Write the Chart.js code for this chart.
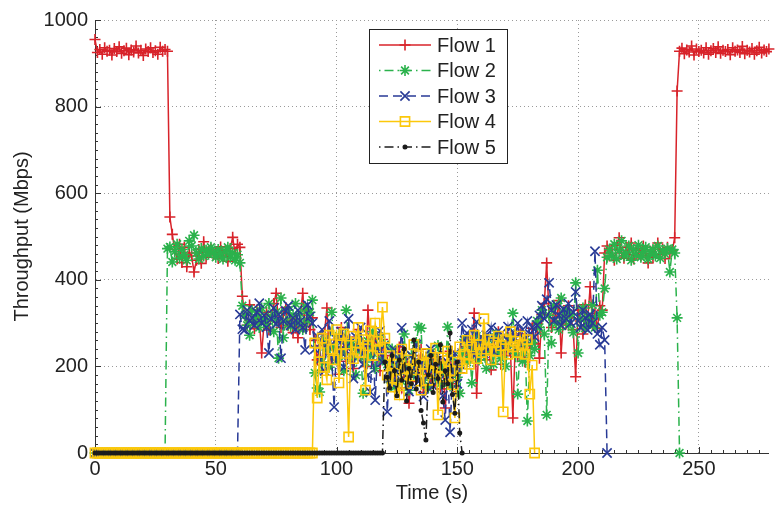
<!DOCTYPE html>
<html>
<head>
<meta charset="utf-8">
<script src="https://cdn.jsdelivr.net/npm/chart.js@4.4.1/dist/chart.umd.min.js"></script>
<style>
  html, body { margin: 0; padding: 0; background: #fff; }
  canvas { display: block; }
</style>
</head>
<body>
<canvas id="chart" width="777" height="508"></canvas>
<script>
// throughput (Mbps) per second, index = time in s
const flowNames = ["Flow 1", "Flow 2", "Flow 3", "Flow 4", "Flow 5"];

const flow1 = [
  955,925,932,921,936,928,930,919,934,927,938,923,929,935,920,931,926,940,924,930,918,933,927,936,925,929,921,937,928,932,
  928,545,
  505,470,448,482,440,475,430,462,455,418,445,470,438,488,452,466,471,458,463,449,476,455,468,443,472,498,460,482,475,
  362,318,295,342,305,287,330,310,231,298,325,284,318,345,369,302,290,322,336,295,310,278,305,266,318,369,292,330,285,312,
  260,215,248,190,275,335,228,205,262,238,182,290,245,212,268,230,195,252,285,220,240,200,330,255,215,272,238,190,262,225,
  210,175,232,160,198,245,150,188,210,115,175,225,165,195,240,140,182,205,155,228,170,192,148,215,104,178,235,160,200,142,185,215,
  245,212,268,230,323,138,255,228,270,215,248,192,262,235,280,205,250,225,268,238,81,260,222,275,245,210,262,240,288,252,
  300,219,320,345,439,318,290,335,305,352,231,320,298,340,312,285,176,330,305,275,342,310,384,295,322,288,340,330,462,478,
  455,470,445,480,497,462,450,475,458,485,448,468,472,455,478,460,439,466,452,474,485,458,470,449,475,462,468,497,836,
  928,935,922,931,926,940,919,933,927,930,924,936,921,929,934,925,938,923,930,927,932,920,936,928,931,925,939,922,930,926,934,921,929,937,924,931,927,933
];

const flow2 = [
  0,0,0,0,0,0,0,0,0,0, 0,0,0,0,0,0,0,0,0,0, 0,0,0,0,0,0,0,0,0,0,
  472,
  476,441,465,482,450,470,458,445,490,478,503,462,448,472,455,468,459,475,462,452,470,460,448,466,475,452,462,445,458,439,
  340,318,295,272,330,305,320,290,335,310,298,345,315,280,325,219,358,266,305,330,292,318,345,300,322,285,338,305,325,353,
  185,150,141,210,262,238,198,325,245,215,270,232,190,330,255,220,248,180,265,235,138,210,258,225,280,195,242,268,215,250,
  205,170,240,152,195,218,165,275,190,145,225,180,255,291,288,168,210,150,232,195,172,248,160,205,182,291,155,220,190,175,138,230,
  262,210,245,162,238,270,215,250,228,195,262,240,205,275,232,218,255,200,245,268,323,230,136,250,212,262,74,225,255,240,
  305,290,330,275,88,318,254,340,300,285,358,312,330,295,320,278,393,231,310,335,288,315,300,342,290,422,318,325,380,452,
  470,455,482,448,468,490,455,462,478,445,470,458,480,452,465,475,448,462,470,455,478,450,468,460,472,418,470,462,312,
  0
];

const flow3 = [
  0,0,0,0,0,0,0,0,0,0, 0,0,0,0,0,0,0,0,0,0, 0,0,0,0,0,0,0,0,0,0,
  0,0,0,0,0,0,0,0,0,0, 0,0,0,0,0,0,0,0,0,0, 0,0,0,0,0,0,0,0,0,0,
  320,286,284,330,305,312,295,325,346,300,318,290,231,310,335,298,320,219,305,328,340,295,312,285,330,305,290,238,342,315,300,
  240,270,215,285,190,250,305,220,106,262,235,280,198,245,310,225,172,268,240,290,205,255,180,141,265,122,235,282,210,248,
  95,205,160,238,178,215,289,170,195,142,225,188,250,165,205,130,218,180,240,155,198,225,170,132,76,210,48,185,230,160,205,300,
  260,277,240,285,225,303,250,268,230,272,245,290,235,260,282,245,270,238,292,255,278,265,300,248,285,262,305,275,290,268,
  295,318,340,310,355,393,330,305,342,318,295,332,310,345,300,325,372,305,290,330,312,284,320,300,466,275,250,290,261,
  0
];

const flow4 = [
  0,0,0,0,0,0,0,0,0,0, 0,0,0,0,0,0,0,0,0,0, 0,0,0,0,0,0,0,0,0,0,
  0,0,0,0,0,0,0,0,0,0, 0,0,0,0,0,0,0,0,0,0, 0,0,0,0,0,0,0,0,0,0,
  0,0,0,0,0,0,0,0,0,0, 0,0,0,0,0,0,0,0,0,0, 0,0,0,0,0,0,0,0,0,0,
  0,
  254,127,232,265,198,169,272,240,215,285,162,250,275,230,37,270,218,255,290,232,262,145,248,282,225,300,258,240,337,265,
  180,225,152,205,170,134,240,195,160,215,178,250,192,225,145,205,230,168,210,185,242,88,198,220,175,235,190,158,81,210,245,195,
  228,260,205,245,272,218,250,232,310,240,262,215,255,235,270,248,95,262,228,280,245,258,232,270,250,228,262,136,203,
  0
];

const flow5 = [
  0,0,0,0,0,0,0,0,0,0, 0,0,0,0,0,0,0,0,0,0, 0,0,0,0,0,0,0,0,0,0,
  0,0,0,0,0,0,0,0,0,0, 0,0,0,0,0,0,0,0,0,0, 0,0,0,0,0,0,0,0,0,0,
  0,0,0,0,0,0,0,0,0,0, 0,0,0,0,0,0,0,0,0,0, 0,0,0,0,0,0,0,0,0,0,
  0,0,0,0,0,0,0,0,0,0, 0,0,0,0,0,0,0,0,0,0, 0,0,0,0,0,0,0,0,0,0,
  210,175,150,225,190,132,215,168,240,120,195,160,261,148,210,98,69,30,180,225,140,205,172,250,118,190,160,277,135,92,210,46,
  0
];

const FONT = "'Liberation Sans', Arial, Helvetica, sans-serif";
const TEXT = "#222";

const styles = [
  { color: "#d8232a", dash: [],            point: "cross",    r: 5.5 },
  { color: "#2bb24c", dash: [1.5, 4, 9, 4], point: "star",     r: 5.5 },
  { color: "#283a96", dash: [9, 5],        point: "crossRot", r: 6.5 },
  { color: "#fcc80b", dash: [],            point: "rect",     r: 6.5 },
  { color: "#1c1c1c", dash: [1.5, 4, 9, 4], point: "circle",   r: 1.7 }
];

const series = [flow1, flow2, flow3, flow4, flow5];

const datasets = series.map((vals, i) => {
  const s = styles[i];
  return {
    label: flowNames[i],
    data: vals.map((v, t) => ({ x: t, y: v })),
    borderColor: s.color,
    borderWidth: 1.5,
    borderDash: s.dash,
    pointStyle: s.point,
    pointRadius: s.r,
    pointBorderWidth: 1.6,
    pointBorderColor: s.color,
    pointBackgroundColor: s.point === "rect" ? "rgba(0,0,0,0)" : s.color,
    tension: 0,
    clip: false,
    order: 5 - i // flow 5 drawn on top, like the original plot order
  };
});

// small inward ticks on the left and bottom axes
const axisTicks = {
  id: "axisTicks",
  beforeDatasetsDraw(chart) {
    const { ctx, chartArea: a, scales: { x, y } } = chart;
    ctx.save();
    ctx.strokeStyle = "#333";
    ctx.lineWidth = 1;
    ctx.beginPath();
    for (let v = 0; v <= 1000; v += 20) {
      const py = Math.round(y.getPixelForValue(v)) + 0.5;
      const len = v % 200 === 0 ? 6 : 3;
      ctx.moveTo(a.left, py);
      ctx.lineTo(a.left + len, py);
    }
    for (let v = 0; v <= 275; v += 5) {
      const px = Math.round(x.getPixelForValue(v)) + 0.5;
      const len = v % 50 === 0 ? 6 : 3;
      ctx.moveTo(px, a.bottom);
      ctx.lineTo(px, a.bottom - len);
    }
    ctx.stroke();
    ctx.restore();
  }
};

// boxed legend, line + marker like the original figure
const boxLegend = {
  id: "boxLegend",
  afterDraw(chart) {
    const ctx = chart.ctx;
    const bx = 369, by = 29, bw = 138, bh = 134;
    ctx.save();
    ctx.fillStyle = "#fff";
    ctx.fillRect(bx, by, bw, bh);
    ctx.strokeStyle = "#222";
    ctx.lineWidth = 1;
    ctx.strokeRect(bx + 0.5, by + 0.5, bw, bh);
    ctx.font = "20px " + FONT;
    ctx.textBaseline = "middle";
    chart.data.datasets.forEach((ds, i) => {
      const cy = 45 + i * 25.5;
      ctx.strokeStyle = ds.borderColor;
      ctx.lineWidth = ds.borderWidth;
      ctx.setLineDash(ds.borderDash);
      ctx.beginPath();
      ctx.moveTo(379, cy);
      ctx.lineTo(431, cy);
      ctx.stroke();
      ctx.setLineDash([]);
      ctx.fillStyle = ds.pointBackgroundColor;
      ctx.strokeStyle = ds.pointBorderColor;
      ctx.lineWidth = ds.pointBorderWidth;
      Chart.helpers.drawPoint(ctx, { pointStyle: ds.pointStyle, radius: ds.pointRadius, borderWidth: ds.pointBorderWidth, rotation: 0 }, 405, cy);
      ctx.fillStyle = TEXT;
      ctx.fillText(ds.label, 437, cy + 1);
    });
    ctx.restore();
  }
};

new Chart(document.getElementById("chart"), {
  type: "line",
  data: { datasets },
  options: {
    responsive: false,
    animation: false,
    events: [],
    layout: { padding: { top: 20, right: 2, left: 0, bottom: 0 } },
    scales: {
      x: {
        type: "linear",
        min: 0,
        max: 279,
        afterFit: s => { s.height = 55; },
        ticks: {
          stepSize: 50,
          includeBounds: false,
          padding: 4,
          color: TEXT,
          font: { family: FONT, size: 20 },
          maxRotation: 0
        },
        grid: { color: "#9a9a9a", lineWidth: 1, drawTicks: false },
        border: { display: true, color: "#333", width: 1, dash: [1, 3] },
        title: {
          display: true,
          text: "Time (s)",
          color: TEXT,
          font: { family: FONT, size: 20 },
          padding: { top: 0, bottom: 3 }
        }
      },
      y: {
        min: 0,
        max: 1000,
        afterFit: s => { s.width = 95; },
        ticks: {
          stepSize: 200,
          padding: 7,
          color: TEXT,
          font: { family: FONT, size: 20 },
          callback: v => String(v)
        },
        grid: { color: "#9a9a9a", lineWidth: 1, drawTicks: false },
        border: { display: true, color: "#333", width: 1, dash: [1, 3] },
        title: {
          display: true,
          text: "Throughput (Mbps)",
          color: TEXT,
          font: { family: FONT, size: 20 },
          padding: { top: 10, bottom: 0 }
        }
      }
    },
    plugins: {
      legend: { display: false },
      tooltip: { enabled: false }
    }
  },
  plugins: [axisTicks, boxLegend]
});
</script>
</body>
</html>
